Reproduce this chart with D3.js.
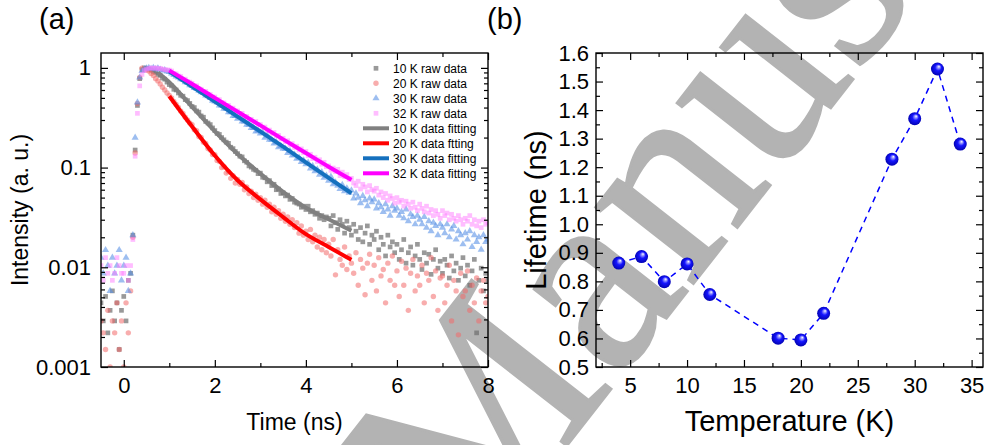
<!DOCTYPE html>
<html>
<head>
<meta charset="utf-8">
<script src="https://d3js.org/d3.v7.min.js"></script>
<style>
  body { margin: 0; background: #fff; }
  text { font-family: "Liberation Sans", Arial, sans-serif; fill: #000; }
</style>
</head>
<body>
<div id="fig"></div>
<script>
// ---------- data ----------
// panel (a): time grid of the raw decay curves (ns)
var rawTime = [
  -0.5, -0.45, -0.4, -0.35, -0.3, -0.25, -0.2, -0.15, -0.1, -0.05,
  0, 0.05, 0.1, 0.15, 0.2, 0.25, 0.3, 0.35, 0.4, 0.45,
  0.5, 0.55, 0.6, 0.65, 0.7, 0.75, 0.8, 0.85, 0.9, 0.95,
  1, 1.05, 1.1, 1.15, 1.2, 1.25, 1.3, 1.35, 1.4, 1.45,
  1.5, 1.55, 1.6, 1.65, 1.7, 1.75, 1.8, 1.85, 1.9, 1.95,
  2, 2.05, 2.1, 2.15, 2.2, 2.25, 2.3, 2.35, 2.4, 2.45,
  2.5, 2.55, 2.6, 2.65, 2.7, 2.75, 2.8, 2.85, 2.9, 2.95,
  3, 3.05, 3.1, 3.15, 3.2, 3.25, 3.3, 3.35, 3.4, 3.45,
  3.5, 3.55, 3.6, 3.65, 3.7, 3.75, 3.8, 3.85, 3.9, 3.95,
  4, 4.05, 4.1, 4.15, 4.2, 4.25, 4.3, 4.35, 4.4, 4.45,
  4.5, 4.55, 4.6, 4.65, 4.7, 4.75, 4.8, 4.85, 4.9, 4.95,
  5, 5.05, 5.1, 5.15, 5.2, 5.25, 5.3, 5.35, 5.4, 5.45,
  5.5, 5.55, 5.6, 5.65, 5.7, 5.75, 5.8, 5.85, 5.9, 5.95,
  6, 6.05, 6.1, 6.15, 6.2, 6.25, 6.3, 6.35, 6.4, 6.45,
  6.5, 6.55, 6.6, 6.65, 6.7, 6.75, 6.8, 6.85, 6.9, 6.95,
  7, 7.05, 7.1, 7.15, 7.2, 7.25, 7.3, 7.35, 7.4, 7.45,
  7.5, 7.55, 7.6, 7.65, 7.7, 7.75, 7.8, 7.85, 7.9, 7.95,
  8
];

var raw10K = [
  0.0044, 0.0029, 0.0051, 0.0022, 0.0037, 0.0058, 0.0029, 0.0044, 0.0015, 0.0037,
  0.0051, 0.0029, 0.0074, 0.0087, 0.021, 0.15, 0.42, 0.78, 0.96, 1.0,
  0.99, 0.97, 0.95, 0.92, 0.9, 0.86, 0.84, 0.79, 0.77, 0.72,
  0.68, 0.66, 0.61, 0.6, 0.56, 0.53, 0.52, 0.48, 0.47, 0.44,
  0.41, 0.4, 0.37, 0.36, 0.33, 0.32, 0.29, 0.28, 0.27, 0.25,
  0.235, 0.22, 0.215, 0.2, 0.19, 0.18, 0.175, 0.16, 0.155, 0.145,
  0.138, 0.13, 0.128, 0.117, 0.113, 0.104, 0.101, 0.096, 0.094, 0.087,
  0.088, 0.08, 0.079, 0.072, 0.074, 0.066, 0.068, 0.06, 0.061, 0.055,
  0.056, 0.052, 0.053, 0.048, 0.049, 0.045, 0.044, 0.043, 0.04, 0.041,
  0.038, 0.041, 0.036, 0.037, 0.034, 0.035, 0.031, 0.033, 0.03, 0.032,
  0.031, 0.026, 0.033, 0.028, 0.024, 0.03, 0.027, 0.022, 0.029, 0.025,
  0.021, 0.027, 0.023, 0.019, 0.025, 0.018, 0.022, 0.026, 0.017, 0.021,
  0.019, 0.023, 0.015, 0.02, 0.017, 0.013, 0.021, 0.016, 0.018, 0.014,
  0.017, 0.012, 0.015, 0.019, 0.011, 0.014, 0.016, 0.0105, 0.013, 0.017,
  0.012, 0.0095, 0.014, 0.011, 0.0135, 0.0085, 0.012, 0.015, 0.0098, 0.0115,
  0.0087, 0.012, 0.0105, 0.0078, 0.013, 0.0092, 0.011, 0.0074, 0.0098, 0.0125,
  0.0082, 0.0105, 0.0066, 0.0092, 0.012, 0.0022, 0.0074, 0.0098, 0.0058, 0.0087,
  0.0074
];

var raw20K = [
  0.0029, 0.0022, 0.0015, 0.0037, 0.001, 0.0029, 0.0022, 0.0044, 0.0015, 0.0029,
  0.001, 0.0044, 0.0022, 0.0058, 0.02, 0.14, 0.44, 0.8, 0.99, 0.97,
  0.95, 0.93, 0.88, 0.84, 0.78, 0.74, 0.69, 0.64, 0.6, 0.56,
  0.53, 0.5, 0.46, 0.43, 0.4, 0.37, 0.35, 0.32, 0.3, 0.28,
  0.27, 0.24, 0.235, 0.205, 0.2, 0.18, 0.175, 0.155, 0.15, 0.135,
  0.135, 0.118, 0.115, 0.1, 0.102, 0.088, 0.091, 0.078, 0.083, 0.07,
  0.076, 0.068, 0.071, 0.06, 0.064, 0.055, 0.058, 0.05, 0.054, 0.047,
  0.05, 0.043, 0.047, 0.04, 0.043, 0.036, 0.04, 0.034, 0.037, 0.031,
  0.034, 0.029, 0.032, 0.027, 0.03, 0.025, 0.028, 0.022, 0.026, 0.021,
  0.023, 0.019, 0.024, 0.018, 0.021, 0.016, 0.02, 0.015, 0.019, 0.014,
  0.017, 0.013, 0.019, 0.0084, 0.015, 0.012, 0.0105, 0.016, 0.0095, 0.013,
  0.011, 0.0087, 0.014, 0.0066, 0.012, 0.0098, 0.0053, 0.011, 0.0135, 0.0074,
  0.0105, 0.0058, 0.0125, 0.0082, 0.0095, 0.0044, 0.011, 0.0074, 0.013, 0.0066,
  0.0092, 0.0051, 0.0115, 0.0066, 0.0098, 0.0037, 0.0087, 0.012, 0.0058, 0.0082,
  0.0066, 0.0105, 0.0044, 0.0087, 0.0074, 0.0125, 0.0051, 0.0092, 0.0037, 0.0078,
  0.0082, 0.0044, 0.0066, 0.0105, 0.0029, 0.0074, 0.0058, 0.0021, 0.0087, 0.0051,
  0.0058, 0.0092, 0.0037, 0.0066, 0.0044, 0.0078, 0.0029, 0.0058, 0.0074, 0.0044,
  0.0051
];

var raw30K = [
  0.0125, 0.0087, 0.0149, 0.0104, 0.0058, 0.0125, 0.0087, 0.0104, 0.0149, 0.0074,
  0.0104, 0.0125, 0.0058, 0.0087, 0.021, 0.2, 0.45, 0.8, 0.93, 0.97,
  0.99, 1.0, 0.98, 1.0, 0.97, 0.99, 0.96, 0.94, 0.95, 0.92,
  0.91, 0.88, 0.85, 0.82, 0.8, 0.77, 0.76, 0.72, 0.71, 0.67,
  0.66, 0.63, 0.62, 0.59, 0.57, 0.56, 0.53, 0.52, 0.5, 0.47,
  0.46, 0.45, 0.42, 0.42, 0.39, 0.39, 0.36, 0.36, 0.33, 0.33,
  0.31, 0.32, 0.29, 0.29, 0.27, 0.27, 0.25, 0.25, 0.23, 0.235,
  0.22, 0.225, 0.2, 0.21, 0.19, 0.19, 0.175, 0.18, 0.16, 0.165,
  0.155, 0.155, 0.14, 0.147, 0.132, 0.135, 0.123, 0.126, 0.114, 0.118,
  0.108, 0.112, 0.098, 0.104, 0.092, 0.096, 0.085, 0.09, 0.079, 0.083,
  0.074, 0.081, 0.068, 0.071, 0.066, 0.061, 0.067, 0.058, 0.062, 0.056,
  0.059, 0.049, 0.055, 0.05, 0.044, 0.052, 0.047, 0.041, 0.049, 0.045,
  0.048, 0.039, 0.044, 0.04, 0.036, 0.043, 0.038, 0.033, 0.041, 0.037,
  0.039, 0.033, 0.036, 0.031, 0.038, 0.029, 0.034, 0.032, 0.027, 0.033,
  0.03, 0.027, 0.032, 0.025, 0.029, 0.023, 0.028, 0.026, 0.021, 0.027,
  0.025, 0.022, 0.027, 0.02, 0.024, 0.026, 0.019, 0.023, 0.021, 0.017,
  0.022, 0.019, 0.023, 0.016, 0.021, 0.018, 0.02, 0.015, 0.021, 0.018,
  0.019
];

var raw32K = [
  0.0104, 0.0074, 0.0125, 0.0087, 0.0104, 0.0074, 0.0087, 0.0125, 0.0104, 0.0087,
  0.0087, 0.0104, 0.0074, 0.0104, 0.019, 0.13, 0.35, 0.66, 0.86, 0.94,
  0.97, 0.99, 1.0, 0.99, 1.0, 0.98, 0.99, 0.97, 0.96, 0.95,
  0.95, 0.93, 0.88, 0.87, 0.83, 0.82, 0.77, 0.77, 0.73, 0.72,
  0.7, 0.66, 0.66, 0.62, 0.61, 0.58, 0.58, 0.545, 0.54, 0.51,
  0.51, 0.48, 0.48, 0.45, 0.445, 0.42, 0.42, 0.395, 0.395, 0.37,
  0.37, 0.35, 0.35, 0.325, 0.325, 0.305, 0.305, 0.285, 0.29, 0.27,
  0.27, 0.252, 0.255, 0.235, 0.238, 0.22, 0.225, 0.207, 0.21, 0.194,
  0.197, 0.182, 0.186, 0.17, 0.174, 0.159, 0.164, 0.15, 0.154, 0.141,
  0.145, 0.132, 0.136, 0.123, 0.127, 0.115, 0.12, 0.108, 0.113, 0.102,
  0.104, 0.094, 0.099, 0.091, 0.096, 0.083, 0.09, 0.081, 0.085, 0.076,
  0.078, 0.07, 0.066, 0.073, 0.061, 0.068, 0.064, 0.057, 0.066, 0.06,
  0.058, 0.062, 0.053, 0.057, 0.05, 0.055, 0.047, 0.052, 0.049, 0.044,
  0.05, 0.045, 0.047, 0.041, 0.046, 0.043, 0.039, 0.045, 0.04, 0.037,
  0.043, 0.039, 0.036, 0.041, 0.035, 0.038, 0.033, 0.037, 0.034, 0.031,
  0.037, 0.033, 0.035, 0.03, 0.034, 0.031, 0.029, 0.033, 0.03, 0.027,
  0.031, 0.029, 0.033, 0.027, 0.03, 0.026, 0.029, 0.025, 0.03, 0.027,
  0.028
];

// fitted curves
var fitTime10K = [0.75, 1, 1.5, 2, 2.5, 3, 3.5, 4, 4.5, 5];
var fit10K = [0.9, 0.72, 0.407, 0.231, 0.137, 0.087, 0.057, 0.0395, 0.0303, 0.0233];
var fitTime = [1, 1.5, 2, 2.5, 3, 3.5, 4, 4.5, 5];
var fit20K = [0.52, 0.258, 0.132, 0.0746, 0.048, 0.0319, 0.0215, 0.016, 0.0119];
var fit30K = [0.92, 0.65, 0.46, 0.325, 0.23, 0.162, 0.113, 0.079, 0.0553];
var fit32K = [0.94, 0.69, 0.5, 0.364, 0.265, 0.192, 0.14, 0.102, 0.0753];

var rawLabels = ["10 K raw data", "20 K raw data", "30 K raw data", "32 K raw data"];
var fitLabels = ["10 K data fitting", "20 K data ftting", "30 K data fitting", "32 K data fitting"];

var timeTicks = [0, 2, 4, 6, 8];
var intensityTicks = [1, 0.1, 0.01, 0.001];
var intensityTickLabels = ["1", "0.1", "0.01", "0.001"];

// panel (b)
var temperature = [4, 6, 8, 10, 12, 18, 20, 22, 28, 30, 32, 34];
var lifetime = [0.864, 0.887, 0.799, 0.861, 0.754, 0.601, 0.595, 0.688, 1.228, 1.37, 1.544, 1.281];
var tempTicks = [5, 10, 15, 20, 25, 30, 35];
var lifetimeTicks = [0.5, 0.6, 0.7, 0.8, 0.9, 1.0, 1.1, 1.2, 1.3, 1.4, 1.5, 1.6];

// ---------- svg ----------
var W = 985, H = 445;
var svg = d3.select("#fig")
  .append("svg")
  .attr("width", W)
  .attr("height", H);

var defs = svg.append("defs");
var grad = defs.append("radialGradient")
  .attr("id", "ball")
  .attr("cx", "50%").attr("cy", "50%").attr("r", "55%")
  .attr("fx", "62%").attr("fy", "30%");
grad.append("stop").attr("offset", "0%").attr("stop-color", "#ffffff");
grad.append("stop").attr("offset", "18%").attr("stop-color", "#9a9aff");
grad.append("stop").attr("offset", "45%").attr("stop-color", "#1515ff");
grad.append("stop").attr("offset", "100%").attr("stop-color", "#0000a8");

// watermark sits behind the (transparent) figure
svg.append("text")
  .attr("x", 468)
  .attr("y", 572)
  .attr("transform", "rotate(-52,468,572)")
  .style("font-family", "'Liberation Serif', 'DejaVu Serif', serif")
  .style("font-size", "270px")
  .style("fill", "#b3b3b3")
  .style("stroke", "#b3b3b3")
  .style("stroke-width", 3)
  .text("Manuscript");

// ================= panel (a) =================
var A = {left: 101, right: 488, top: 53, bottom: 367};

var x = d3.scaleLinear()
  .domain([-0.5, 8])
  .range([A.left, A.right]);

var y = d3.scaleLog()
  .domain([0.001, 1.41])
  .range([A.bottom, A.top]);

defs.append("clipPath").attr("id", "clipA")
  .append("rect")
  .attr("x", A.left).attr("y", A.top)
  .attr("width", A.right - A.left).attr("height", A.bottom - A.top);

var plotA = svg.append("g").attr("clip-path", "url(#clipA)");

function points(vals) {
  return rawTime.map(function(t, i) { return {t: t, v: vals[i]}; });
}

var sq = d3.symbol().type(d3.symbolSquare).size(22);
var tri = d3.symbol().type(d3.symbolTriangle).size(22);

// 10 K squares
plotA.append("g").selectAll("path")
  .data(points(raw10K))
  .enter().append("path")
  .attr("d", sq)
  .attr("transform", function(d) { return "translate(" + x(d.t) + "," + y(d.v) + ")"; })
  .style("fill", "#6e6e6e")
  .style("opacity", 0.7);

// 20 K circles
plotA.append("g").selectAll("circle")
  .data(points(raw20K))
  .enter().append("circle")
  .attr("cx", function(d) { return x(d.t); })
  .attr("cy", function(d) { return y(d.v); })
  .attr("r", 2.7)
  .style("fill", "#f26a6a")
  .style("opacity", 0.55);

// 30 K triangles
plotA.append("g").selectAll("path")
  .data(points(raw30K))
  .enter().append("path")
  .attr("d", tri)
  .attr("transform", function(d) { return "translate(" + x(d.t) + "," + y(d.v) + ")"; })
  .style("fill", "#5b93e6")
  .style("opacity", 0.6);

// 32 K squares
plotA.append("g").selectAll("path")
  .data(points(raw32K))
  .enter().append("path")
  .attr("d", sq)
  .attr("transform", function(d) { return "translate(" + x(d.t) + "," + y(d.v) + ")"; })
  .style("fill", "#ff7cff")
  .style("opacity", 0.5);

// fitted lines
var fitLine = d3.line()
  .x(function(d) { return x(d[0]); })
  .y(function(d) { return y(d[1]); })
  .curve(d3.curveMonotoneX);

var fits = [
  {t: fitTime10K, v: fit10K, c: "#808080"},
  {t: fitTime, v: fit20K, c: "#ff0000"},
  {t: fitTime, v: fit30K, c: "#1570be"},
  {t: fitTime, v: fit32K, c: "#ff00ff"}
];
fits.forEach(function(f) {
  plotA.append("path")
    .datum(d3.zip(f.t, f.v))
    .attr("d", fitLine)
    .style("fill", "none")
    .style("stroke", f.c)
    .style("stroke-width", 4);
});

// minor log ticks
var logMinor = [];
[0.001, 0.01, 0.1].forEach(function(dec) {
  for (var k = 2; k <= 9; k++) logMinor.push(dec * k);
});

function axisStyle(g) {
  g.select(".domain").remove();
  g.selectAll(".tick line").attr("stroke", "#000").style("stroke-width", 1.2);
}

// X axis (a)
svg.append("g")
  .attr("transform", "translate(0," + A.bottom + ")")
  .call(d3.axisBottom(x).tickValues(timeTicks).tickSize(-7).tickPadding(10).tickFormat(d3.format("d")))
  .call(axisStyle)
  .selectAll("text").style("font-size", "22px").style("font-family", "Liberation Sans");
svg.append("g")
  .attr("transform", "translate(0," + A.bottom + ")")
  .call(d3.axisBottom(x).tickValues([1, 3, 5, 7]).tickSize(-4).tickFormat(""))
  .call(axisStyle);
svg.append("g")
  .attr("transform", "translate(0," + A.top + ")")
  .call(d3.axisTop(x).tickValues(timeTicks).tickSize(-7).tickFormat(""))
  .call(axisStyle);
svg.append("g")
  .attr("transform", "translate(0," + A.top + ")")
  .call(d3.axisTop(x).tickValues([1, 3, 5, 7]).tickSize(-4).tickFormat(""))
  .call(axisStyle);

// Y axis (a)
svg.append("g")
  .attr("transform", "translate(" + A.left + ",0)")
  .call(d3.axisLeft(y).tickValues(intensityTicks).tickSize(-7).tickPadding(10)
    .tickFormat(function(d, i) { return intensityTickLabels[i]; }))
  .call(axisStyle)
  .selectAll("text").style("font-size", "22px").style("font-family", "Liberation Sans");
svg.append("g")
  .attr("transform", "translate(" + A.left + ",0)")
  .call(d3.axisLeft(y).tickValues(logMinor).tickSize(-4).tickFormat(""))
  .call(axisStyle);
svg.append("g")
  .attr("transform", "translate(" + A.right + ",0)")
  .call(d3.axisRight(y).tickValues(intensityTicks).tickSize(-7).tickFormat(""))
  .call(axisStyle);
svg.append("g")
  .attr("transform", "translate(" + A.right + ",0)")
  .call(d3.axisRight(y).tickValues(logMinor).tickSize(-4).tickFormat(""))
  .call(axisStyle);

svg.append("rect")
  .attr("x", A.left).attr("y", A.top)
  .attr("width", A.right - A.left).attr("height", A.bottom - A.top)
  .style("fill", "none").style("stroke", "#000").style("stroke-width", 1.4);

// axis titles (a)
svg.append("text")
  .attr("text-anchor", "middle")
  .attr("x", (A.left + A.right) / 2)
  .attr("y", 430)
  .style("font-size", "23px")
  .text("Time (ns)");
svg.append("text")
  .attr("text-anchor", "middle")
  .attr("transform", "translate(28," + (A.top + A.bottom) / 2 + ") rotate(-90)")
  .style("font-size", "23px")
  .text("Intensity (a. u.)");
svg.append("text")
  .attr("x", 39).attr("y", 29)
  .style("font-size", "29px")
  .text("(a)");

// legend (a)
var legX = 376, legY = 68.3, legStep = 15;
var leg = svg.append("g");
leg.append("path").attr("d", sq)
  .attr("transform", "translate(" + legX + "," + legY + ")")
  .style("fill", "#6e6e6e").style("opacity", 0.7);
leg.append("circle").attr("cx", legX).attr("cy", legY + legStep).attr("r", 2.7)
  .style("fill", "#f26a6a").style("opacity", 0.55);
leg.append("path").attr("d", tri)
  .attr("transform", "translate(" + legX + "," + (legY + 2 * legStep) + ")")
  .style("fill", "#5b93e6").style("opacity", 0.6);
leg.append("path").attr("d", sq)
  .attr("transform", "translate(" + legX + "," + (legY + 3 * legStep) + ")")
  .style("fill", "#ff7cff").style("opacity", 0.5);
fits.forEach(function(f, i) {
  leg.append("line")
    .attr("x1", 363).attr("x2", 389)
    .attr("y1", legY + (4 + i) * legStep).attr("y2", legY + (4 + i) * legStep)
    .style("stroke", f.c).style("stroke-width", 4);
});
rawLabels.concat(fitLabels).forEach(function(s, i) {
  leg.append("text")
    .attr("x", 393)
    .attr("y", legY + i * legStep)
    .attr("dy", "0.35em")
    .style("font-size", "12px")
    .text(s);
});

// ================= panel (b) =================
var B = {left: 596, right: 983, top: 53, bottom: 367};

var xb = d3.scaleLinear()
  .domain([2, 36])
  .range([B.left, B.right]);

var yb = d3.scaleLinear()
  .domain([0.5, 1.6])
  .range([B.bottom, B.top]);

var tempMinor = [2.5, 7.5, 12.5, 17.5, 22.5, 27.5, 32.5];
var lifeMinor = [0.55, 0.65, 0.75, 0.85, 0.95, 1.05, 1.15, 1.25, 1.35, 1.45, 1.55];

svg.append("g")
  .attr("transform", "translate(0," + B.bottom + ")")
  .call(d3.axisBottom(xb).tickValues(tempTicks).tickSize(-7).tickPadding(10).tickFormat(d3.format("d")))
  .call(axisStyle)
  .selectAll("text").style("font-size", "22px").style("font-family", "Liberation Sans");
svg.append("g")
  .attr("transform", "translate(0," + B.bottom + ")")
  .call(d3.axisBottom(xb).tickValues(tempMinor).tickSize(-4).tickFormat(""))
  .call(axisStyle);
svg.append("g")
  .attr("transform", "translate(0," + B.top + ")")
  .call(d3.axisTop(xb).tickValues(tempTicks).tickSize(-7).tickFormat(""))
  .call(axisStyle);
svg.append("g")
  .attr("transform", "translate(0," + B.top + ")")
  .call(d3.axisTop(xb).tickValues(tempMinor).tickSize(-4).tickFormat(""))
  .call(axisStyle);

svg.append("g")
  .attr("transform", "translate(" + B.left + ",0)")
  .call(d3.axisLeft(yb).tickValues(lifetimeTicks).tickSize(-7).tickPadding(7).tickFormat(d3.format(".1f")))
  .call(axisStyle)
  .selectAll("text").style("font-size", "22px").style("font-family", "Liberation Sans");
svg.append("g")
  .attr("transform", "translate(" + B.left + ",0)")
  .call(d3.axisLeft(yb).tickValues(lifeMinor).tickSize(-4).tickFormat(""))
  .call(axisStyle);
svg.append("g")
  .attr("transform", "translate(" + B.right + ",0)")
  .call(d3.axisRight(yb).tickValues(lifetimeTicks).tickSize(-7).tickFormat(""))
  .call(axisStyle);
svg.append("g")
  .attr("transform", "translate(" + B.right + ",0)")
  .call(d3.axisRight(yb).tickValues(lifeMinor).tickSize(-4).tickFormat(""))
  .call(axisStyle);

svg.append("rect")
  .attr("x", B.left).attr("y", B.top)
  .attr("width", B.right - B.left).attr("height", B.bottom - B.top)
  .style("fill", "none").style("stroke", "#000").style("stroke-width", 1.4);

// dashed line + spheres
var lifePts = d3.zip(temperature, lifetime);
svg.append("path")
  .datum(lifePts)
  .attr("d", d3.line()
    .x(function(d) { return xb(d[0]); })
    .y(function(d) { return yb(d[1]); }))
  .style("fill", "none")
  .style("stroke", "#0000ff")
  .style("stroke-width", 1.5)
  .style("stroke-dasharray", "6,5");

svg.append("g").selectAll("circle")
  .data(lifePts)
  .enter().append("circle")
  .attr("cx", function(d) { return xb(d[0]); })
  .attr("cy", function(d) { return yb(d[1]); })
  .attr("r", 6.5)
  .style("fill", "url(#ball)");

svg.append("text")
  .attr("text-anchor", "middle")
  .attr("x", (B.left + B.right) / 2)
  .attr("y", 431)
  .style("font-size", "29px")
  .text("Temperature (K)");
svg.append("text")
  .attr("text-anchor", "middle")
  .attr("transform", "translate(546," + (B.top + B.bottom) / 2 + ") rotate(-90)")
  .style("font-size", "29px")
  .text("Lifetime (ns)");
svg.append("text")
  .attr("x", 487).attr("y", 29)
  .style("font-size", "29px")
  .text("(b)");
</script>
</body>
</html>
